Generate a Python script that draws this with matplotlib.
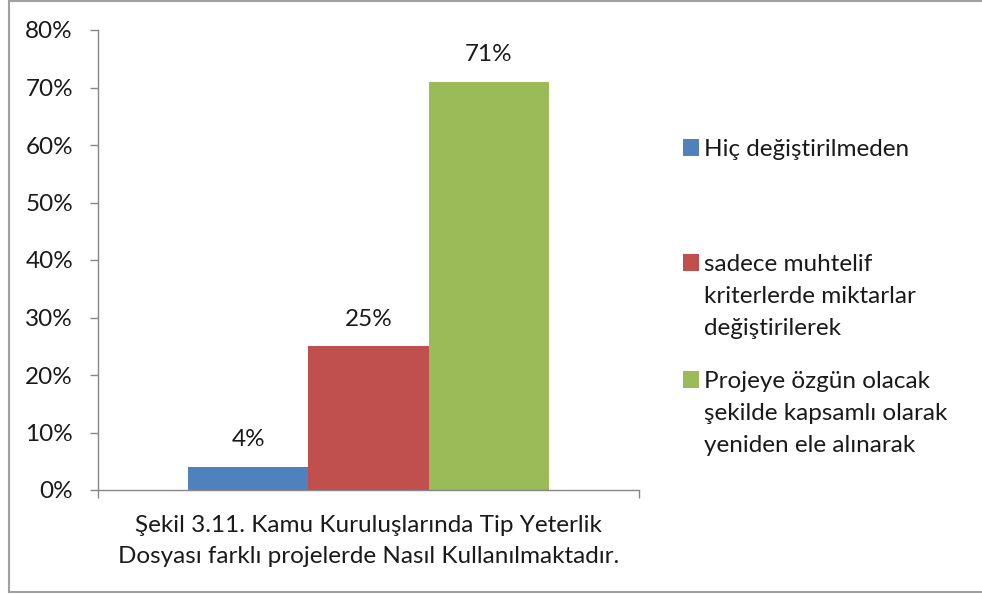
import matplotlib.pyplot as plt
from matplotlib.patches import Rectangle


categories = [
    "Hiç değiştirilmeden",
    "sadece muhtelif\nkriterlerde miktarlar\ndeğiştirilerek",
    "Projeye özgün olacak\nşekilde kapsamlı olarak\nyeniden ele alınarak",
]
values = [4, 25, 71]
colors = ["#4F81BD", "#C0504D", "#9BBB59"]

y_ticks = [0, 10, 20, 30, 40, 50, 60, 70, 80]
y_tick_labels = [f"{v}%" for v in y_ticks]

x_label = (
    "Şekil 3.11. Kamu Kuruluşlarında Tip Yeterlik\n"
    "Dosyası farklı projelerde Nasıl Kullanılmaktadır."
)

# legend rows: top of the first text line, in pixels from the top
legend_tops_px = [139, 254, 371]

FONT = ["Lato", "DejaVu Sans"]
TEXT_COLOR = "#1a1a1a"
AXIS_COLOR = "#868686"
FS = 17.5

W, H = 982, 594


def main():
    plt.rcParams["font.family"] = FONT

    fig = plt.figure(figsize=(W / 100, H / 100), dpi=100)

    # chart border (left, top, bottom only)
    border = dict(color="#a0a0a0", lw=1.5, transform=fig.transFigure)
    fig.add_artist(plt.Line2D([9 / W, 9 / W], [1 - 592 / H, 1 - 1 / H], **border))
    fig.add_artist(plt.Line2D([9 / W, 1], [1 - 1 / H, 1 - 1 / H], **border))
    fig.add_artist(plt.Line2D([9 / W, 1], [1 - 592 / H, 1 - 592 / H], **border))

    ax = fig.add_axes([98 / W, 1 - 490 / H, 541 / W, 460 / H])

    x = [-1, 0, 1]
    bars = ax.bar(x, values, width=1.0, color=colors, edgecolor="none")
    ax.bar_label(bars, labels=[f"{v}%" for v in values], padding=12,
                 fontsize=FS, color=TEXT_COLOR)

    ax.set_xlim(-2.254, 2.254)
    ax.set_ylim(0, 80)

    ax.set_yticks(y_ticks)
    ax.set_yticklabels(y_tick_labels)
    ax.tick_params(axis="y", direction="out", length=6, width=1,
                   color=AXIS_COLOR, pad=12, labelsize=FS, labelcolor=TEXT_COLOR)

    ax.set_xticks([0])
    ax.set_xticklabels([x_label], linespacing=1.6)
    ax.set_xticks([-2.254, 2.254], minor=True)
    ax.tick_params(axis="x", which="major", length=0, pad=18,
                   labelsize=FS, labelcolor=TEXT_COLOR)
    ax.tick_params(axis="x", which="minor", direction="out", length=6,
                   width=1, color=AXIS_COLOR)

    for side in ["top", "right"]:
        ax.spines[side].set_visible(False)
    for side in ["left", "bottom"]:
        ax.spines[side].set_color(AXIS_COLOR)
        ax.spines[side].set_linewidth(1)

    # legend drawn as squares plus text to match the spread-out layout
    for label, color, top_px in zip(categories, colors, legend_tops_px):
        fig.add_artist(Rectangle((683 / W, 1 - (top_px + 17) / H), 16 / W, 17 / H,
                                 facecolor=color, edgecolor="none",
                                 transform=fig.transFigure))
        fig.text(704 / W, 1 - top_px / H, label, fontsize=FS, color=TEXT_COLOR,
                 va="top", ha="left", linespacing=1.65)

    fig.savefig("out.png", dpi=100)


if __name__ == "__main__":
    main()
